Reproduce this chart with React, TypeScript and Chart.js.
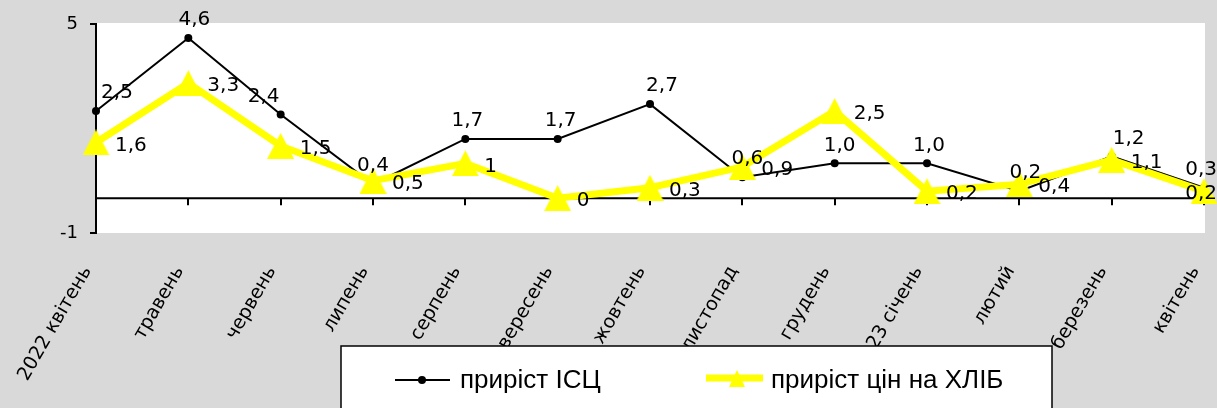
import React, { useEffect, useRef } from 'react';
import { Chart, registerables } from 'chart.js';

Chart.register(...registerables);

const categories = [
  '2022 квітень', 'травень', 'червень', 'липень', 'серпень', 'вересень',
  'жовтень', 'листопад', 'грудень', '2023 січень', 'лютий', 'березень', 'квітень',
];
const cpiGrowth = [2.5, 4.6, 2.4, 0.4, 1.7, 1.7, 2.7, 0.6, 1.0, 1.0, 0.2, 1.2, 0.3];
const breadGrowth = [1.6, 3.3, 1.5, 0.5, 1, 0, 0.3, 0.9, 2.5, 0.2, 0.4, 1.1, 0.2];
const yTicks = [-1, 5];
const seriesNames = ['приріст ІСЦ', 'приріст цін на ХЛІБ'];

// horizontal nudges (px) of the ІСЦ value labels relative to their points
const cpiLabelNudge = [21, 6, -17, 0, 2, 3, 12, 5, 5, 2, 6, 17, 0];

const W = 1217;
const H = 408;
const GRAY = '#d9d9d9';
const YELLOW = '#ffff00';

function makeTriangle(w: number, h: number): HTMLCanvasElement {
  const c = document.createElement('canvas');
  c.width = w;
  c.height = h;
  const g = c.getContext('2d')!;
  g.fillStyle = YELLOW;
  g.beginPath();
  g.moveTo(w / 2, 0);
  g.lineTo(w, h);
  g.lineTo(0, h);
  g.closePath();
  g.fill();
  return c;
}

const fmtCpi = (v: number) => v.toFixed(1).replace('.', ',');
const fmtBread = (v: number) => String(v).replace('.', ',');

const decor = {
  id: 'decor',
  beforeDraw(chart: any) {
    const { ctx, chartArea: a } = chart;
    ctx.save();
    ctx.fillStyle = GRAY;
    ctx.fillRect(0, 0, W, H);
    ctx.fillStyle = '#ffffff';
    ctx.fillRect(a.left, a.top - 1, a.right - a.left + 1, a.bottom - a.top + 1);
    ctx.restore();
  },
  beforeDatasetsDraw(chart: any) {
    const { ctx, chartArea: a, scales } = chart;
    const y0 = scales.y.getPixelForValue(0);
    ctx.save();
    ctx.strokeStyle = '#000';
    ctx.lineWidth = 2;
    ctx.beginPath();
    ctx.moveTo(a.left, y0);
    ctx.lineTo(a.right + 1, y0);
    categories.forEach((_, i) => {
      const x = Math.round(scales.x.getPixelForValue(i));
      ctx.moveTo(x, y0);
      ctx.lineTo(x, y0 + 7);
    });
    ctx.stroke();
    // category labels
    ctx.fillStyle = '#000';
    ctx.font = '19px "DejaVu Sans"';
    ctx.textAlign = 'right';
    ctx.textBaseline = 'top';
    categories.forEach((lab, i) => {
      const x = scales.x.getPixelForValue(i);
      ctx.save();
      ctx.translate(x - 17, a.bottom + 30);
      ctx.rotate((-60 * Math.PI) / 180);
      ctx.fillText(lab, 0, 0);
      ctx.restore();
    });
    ctx.restore();
  },
  afterDatasetsDraw(chart: any) {
    const { ctx } = chart;
    ctx.save();
    ctx.fillStyle = '#000';
    ctx.font = '20px "DejaVu Sans"';
    ctx.textBaseline = 'middle';
    ctx.textAlign = 'left';
    const m0 = chart.getDatasetMeta(0).data;
    cpiGrowth.forEach((v, i) => {
      const p = m0[i];
      const t = fmtCpi(v);
      const w = ctx.measureText(t).width;
      let left = p.x + cpiLabelNudge[i] - w / 2;
      left = Math.min(left, W - w);
      ctx.fillText(t, left, p.y - 18);
    });
    const m1 = chart.getDatasetMeta(1).data;
    breadGrowth.forEach((v, i) => {
      const p = m1[i];
      const t = fmtBread(v);
      const w = ctx.measureText(t).width;
      let left = p.x + 19;
      left = Math.min(left, W - w);
      ctx.fillText(t, left, p.y + 3);
    });
    ctx.restore();
  },
  afterDraw(chart: any) {
    const { ctx } = chart;
    ctx.save();
    // legend box
    ctx.fillStyle = '#ffffff';
    ctx.fillRect(341, 346, 1052 - 341, 80);
    ctx.strokeStyle = '#000';
    ctx.lineWidth = 1.5;
    ctx.strokeRect(341, 346, 1052 - 341, 80);
    // black sample
    ctx.lineWidth = 2;
    ctx.beginPath();
    ctx.moveTo(395, 380);
    ctx.lineTo(450, 380);
    ctx.stroke();
    ctx.fillStyle = '#000';
    ctx.beginPath();
    ctx.arc(422, 380, 4, 0, Math.PI * 2);
    ctx.fill();
    // yellow sample
    ctx.strokeStyle = YELLOW;
    ctx.lineWidth = 7;
    ctx.beginPath();
    ctx.moveTo(706, 378);
    ctx.lineTo(763, 378);
    ctx.stroke();
    ctx.fillStyle = YELLOW;
    ctx.beginPath();
    ctx.moveTo(737, 370);
    ctx.lineTo(745, 387);
    ctx.lineTo(729, 387);
    ctx.closePath();
    ctx.fill();
    // texts
    ctx.fillStyle = '#000';
    ctx.font = '26px "Liberation Sans"';
    ctx.textAlign = 'left';
    ctx.textBaseline = 'middle';
    ctx.fillText(seriesNames[0], 460, 381);
    ctx.fillText(seriesNames[1], 771, 381);
    ctx.restore();
  },
};

export default function App() {
  const ref = useRef<HTMLCanvasElement>(null);
  useEffect(() => {
    document.body.style.margin = '0';
    const tri = makeTriangle(27, 26);
    const chart = new Chart(ref.current!, {
      type: 'line',
      data: {
        labels: categories,
        datasets: [
          {
            label: seriesNames[0],
            data: cpiGrowth,
            borderColor: '#000',
            backgroundColor: '#000',
            borderWidth: 2,
            pointRadius: 4,
            pointBorderWidth: 0,
            pointBackgroundColor: '#000',
            tension: 0,
            clip: false as any,
            order: 1,
          },
          {
            label: seriesNames[1],
            data: breadGrowth,
            borderColor: YELLOW,
            backgroundColor: YELLOW,
            borderWidth: 7,
            pointStyle: tri as any,
            pointRadius: 13,
            pointBorderWidth: 0,
            tension: 0,
            clip: false as any,
            order: 0,
          },
        ],
      },
      options: {
        animation: false,
        responsive: false,
        devicePixelRatio: 1,
        layout: { padding: { top: 24, right: 10, left: 0, bottom: 0 } },
        plugins: { legend: { display: false }, tooltip: { enabled: false } },
        scales: {
          x: {
            type: 'category',
            offset: false,
            grid: { display: false },
            border: { display: false },
            ticks: { display: false },
            afterFit: (s: any) => {
              s.height = H - 233;
            },
          },
          y: {
            min: -1,
            max: 5,
            afterBuildTicks: (s: any) => {
              s.ticks = yTicks.map((v) => ({ value: v }));
            },
            grid: { drawOnChartArea: false, color: '#000', lineWidth: 2, tickLength: 6 },
            border: { color: '#000', width: 2 },
            ticks: {
              color: '#000',
              font: { family: 'DejaVu Sans', size: 18 },
              padding: 12,
              callback: (v: any) => String(v),
            },
            afterFit: (s: any) => {
              s.width = 96;
            },
          },
        },
      },
      plugins: [decor],
    });
    return () => chart.destroy();
  }, []);
  return (
    <div style={{ position: 'absolute', left: 0, top: 0, width: W, height: H }}>
      <canvas ref={ref} width={W} height={H} />
    </div>
  );
}
